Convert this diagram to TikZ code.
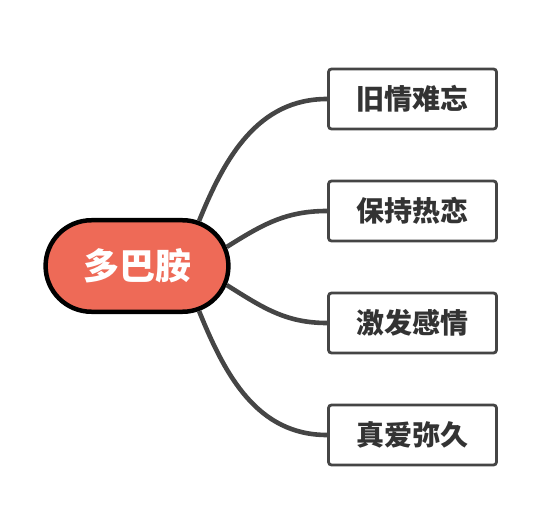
\documentclass[tikz,border=0pt]{standalone}
\usepackage{fontspec}
\newfontfamily\cjk{Noto Sans CJK SC}
\usetikzlibrary{shapes.misc}
\definecolor{dopared}{RGB}{238,106,87}
\definecolor{linegray}{RGB}{69,69,69}
\definecolor{textgray}{RGB}{51,51,51}
\begin{document}
\begin{tikzpicture}[
    x=1pt, y=-1pt,
    root/.style={rounded rectangle, draw=black, line width=4.5pt, fill=dopared,
        minimum width=189.5pt, minimum height=91.5pt, text=white,
        font=\cjk\bfseries\fontsize{36}{40}\selectfont},
    leaf/.style={rectangle, rounded corners=3pt, draw=linegray, line width=2.8pt,
        minimum width=168pt, minimum height=60pt, text=textgray, fill=white,
        font=\cjk\bfseries\fontsize{28}{32}\selectfont},
    branch/.style={draw=linegray, line width=4.6pt}
]
\useasboundingbox (0,0) rectangle (556,526);
\node[root] (dopa) at (137,266) {多巴胺};
\node[leaf] (old)    at (412.5,99)  {旧情难忘};
\node[leaf] (keep)   at (412.5,211) {保持热恋};
\node[leaf] (spark)  at (412.5,323) {激发感情};
\node[leaf] (last)   at (412.5,435) {真爱弥久};
% branches
\draw[branch] (dopa.36)  to[out=68, in=180] (old.west);
\draw[branch] (dopa.12)  to[out=32, in=180] (keep.west);
\draw[branch] (dopa.-12) to[out=-32, in=180] (spark.west);
\draw[branch] (dopa.-36) to[out=-68, in=180] (last.west);
\end{tikzpicture}
\end{document}
